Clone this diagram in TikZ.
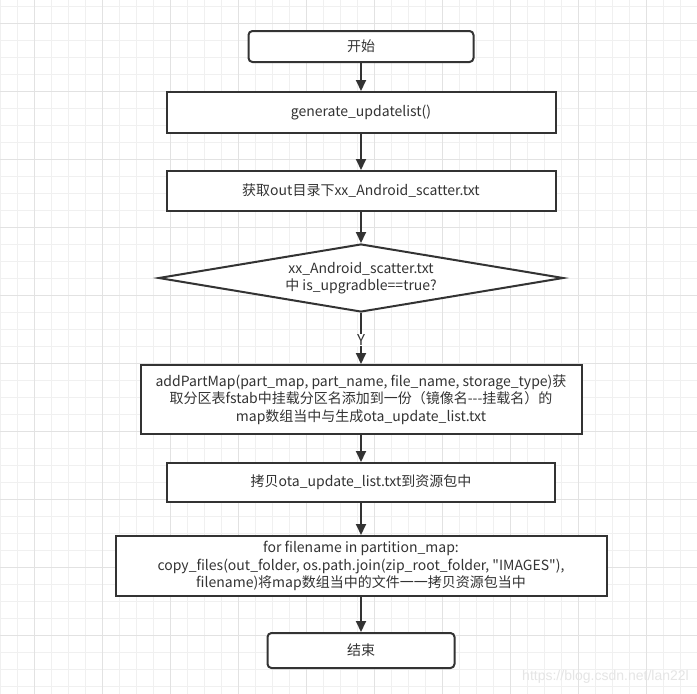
\documentclass[tikz,border=0pt]{standalone}
\usepackage{fontspec}
\setmainfont{Noto Sans CJK SC}[Ligatures=TeXOff]
\newfontfamily\wmfont{Liberation Sans}
\usetikzlibrary{arrows.meta,shapes.geometric}
\definecolor{ink}{HTML}{333333}
\definecolor{gridminor}{HTML}{F0F0F0}
\definecolor{gridmajor}{HTML}{E2E2E2}
\tikzset{
  procbox/.style={draw=ink, line width=2pt, fill=white, text=ink, align=center, inner sep=0pt,
    font=\fontsize{14}{17.5}\selectfont},
  termbox/.style={procbox, rounded corners=4pt},
  decbox/.style={procbox, diamond, aspect=5.8},
  flow/.style={draw=ink, line width=2pt, -{Triangle[length=11pt,width=10pt]}},
  flowlabel/.style={fill=white, text=ink, inner sep=0.5pt, font=\fontsize{15}{15}\selectfont},
}
\begin{document}
\begin{tikzpicture}[x=1pt,y=-1pt]
\useasboundingbox (0,0) rectangle (697,694);
\fill[white] (0,0) rectangle (697,694);
% grid
\foreach \k in {0,...,41} {
  \draw[gridminor, line width=1pt] (17*\k,0) -- (17*\k,694);
}
\foreach \k in {0,...,40} {
  \draw[gridminor, line width=1pt] (0,6+17*\k) -- (697,6+17*\k);
}
\foreach \k in {0,...,9} {
  \draw[gridmajor, line width=1pt] (34+68*\k,0) -- (34+68*\k,694);
}
\foreach \k in {0,...,9} {
  \draw[gridmajor, line width=1pt] (0,23+68*\k) -- (697,23+68*\k);
}
% nodes
\node[termbox, minimum width=225pt, minimum height=31pt] (start) at (361,46.5) {开始};
\node[procbox, minimum width=389pt, minimum height=41pt] (gen) at (361,112.5) {generate\_updatelist()};
\node[procbox, minimum width=389pt, minimum height=40pt] (get) at (361,191) {获取out目录下xx\_Android\_scatter.txt};
\node[decbox, minimum width=405pt, minimum height=68pt] (dec) at (361,278) {xx\_Android\_scatter.txt\\中 is\_upgradble==true?};
\node[procbox, minimum width=441pt, minimum height=69pt] (add) at (361,399.5) {addPartMap(part\_map, part\_name, file\_name, storage\_type)获\\取分区表fstab中挂载分区名添加到一份（镜像名{-}{-}{-}挂载名）的\\map数组当中与生成ota\_update\_list.txt};
\node[procbox, minimum width=388pt, minimum height=39pt] (copy) at (361,482.5) {拷贝ota\_update\_list.txt到资源包中};
\node[procbox, minimum width=491pt, minimum height=60pt] (loop) at (361,566) {for filename in partition\_map:\\copy\_files(out\_folder, os.path.join(zip\_root\_folder, "IMAGES"),\\filename)将map数组当中的文件一一拷贝资源包当中};
\node[termbox, minimum width=187pt, minimum height=35pt] (stop) at (361,650.5) {结束};
\node[flowlabel] (ylab) at (361,340) {Y};
% connectors
\draw[flow] (start) -- (gen);
\draw[flow] (gen) -- (get);
\draw[flow] (get) -- (dec);
\draw[draw=ink, line width=2pt] (dec) -- (ylab);
\draw[flow] (ylab) -- (add);
\draw[flow] (add) -- (copy);
\draw[flow] (copy) -- (loop);
\draw[flow] (loop) -- (stop);
% watermark
\node[text=black!10, font=\wmfont\fontsize{14}{14}\selectfont, anchor=east, inner sep=0pt] (wm) at (689,677) {https://blog.csdn.net/lan22l};
\end{tikzpicture}
\end{document}
